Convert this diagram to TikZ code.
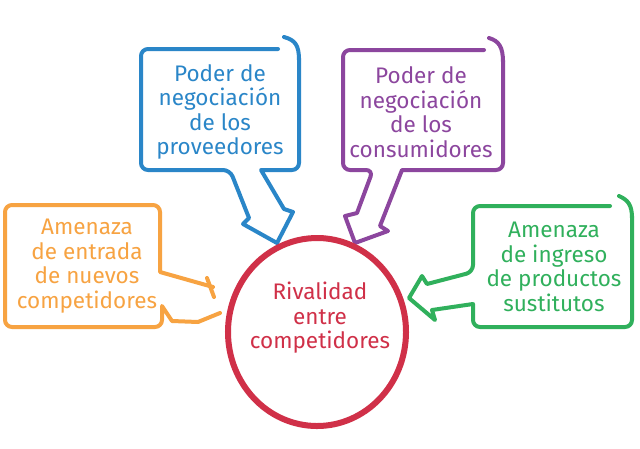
\documentclass[tikz,border=0pt]{standalone}
\usepackage{fontspec}
\setmainfont{Fira Sans}
\definecolor{cblue}{RGB}{42,134,200}
\definecolor{cpurple}{RGB}{140,70,158}
\definecolor{corange}{RGB}{247,163,66}
\definecolor{cgreen}{RGB}{48,176,92}
\definecolor{cred}{RGB}{208,48,72}
\begin{document}
\begin{tikzpicture}[x=1pt,y=-1pt, line cap=round, line join=round,
  box/.style={line width=4pt},
  lbl/.style={align=center, font=\fontsize{22.5}{24.5}\selectfont, inner sep=0pt}]
\useasboundingbox (0,0) rectangle (640,448);
\fill[white] (0,0) rectangle (640,448);

% blue: proveedores
\draw[box, cblue] [rounded corners=7pt] (278,49) -- (141,49) -- (141,170) -- (230,170)
  [sharp corners] -- (249,218) -- (243,224) -- (277,243) -- (293,212) -- (284,209) -- (261,170)
  [rounded corners=7pt] -- (299,170) -- (299,58);
\draw[box, cblue] (299,60) .. controls (299,45) and (295,40) .. (284,37);
\node[lbl, text=cblue] (prov) at (220,112) {Poder de\\negociación\\de los\\proveedores};

% purple: consumidores
\draw[box, cpurple] [rounded corners=7pt] (484,50) -- (343,50) -- (343,170) -- (373,170)
  [sharp corners] -- (357,213) -- (345,216) -- (355,243) -- (388,231) -- (380,226) -- (402,170)
  [rounded corners=7pt] -- (503,170) -- (503,60);
\draw[box, cpurple] (503,62) .. controls (503,47) and (499,41) .. (489,38);
\node[lbl, text=cpurple] (cons) at (421,112) {Poder de\\negociación\\de los\\consumidores};

% orange: nuevos competidores
\draw[box, corange] [sharp corners] (213,287) -- (160,272) [rounded corners=7pt] -- (160,205) -- (5,205) -- (5,327) -- (162,327) [sharp corners] -- (162,306) -- (172,321) -- (198,322) -- (220,313);
\draw[box, corange] (207,278) -- (214,297);
\node[lbl, text=corange] (entr) at (87,266) {Amenaza\\de entrada\\de nuevos\\competidores};

% green: productos sustitutos
\draw[box, cgreen] [rounded corners=7pt] (610,206) -- (473,206) -- (473,272)
  [sharp corners] -- (427,284) -- (422,276) -- (409,298) -- (435,320) -- (432,310) -- (473,304)
  [rounded corners=7pt] -- (473,327) -- (632,327) -- (632,216);
\draw[box, cgreen] (632,218) .. controls (632,205) and (628,200) .. (619,196);
\node[lbl, text=cgreen] (sust) at (554,267) {Amenaza\\de ingreso\\de productos\\sustitutos};

% red circle
\draw[cred, line width=6pt] (317,332) ++(186:89 and 94) arc[start angle=186, end angle=-177, x radius=89, y radius=94];
\node[lbl, text=cred] (riv) at (320,318) {Rivalidad\\entre\\competidores};
\end{tikzpicture}
\end{document}
